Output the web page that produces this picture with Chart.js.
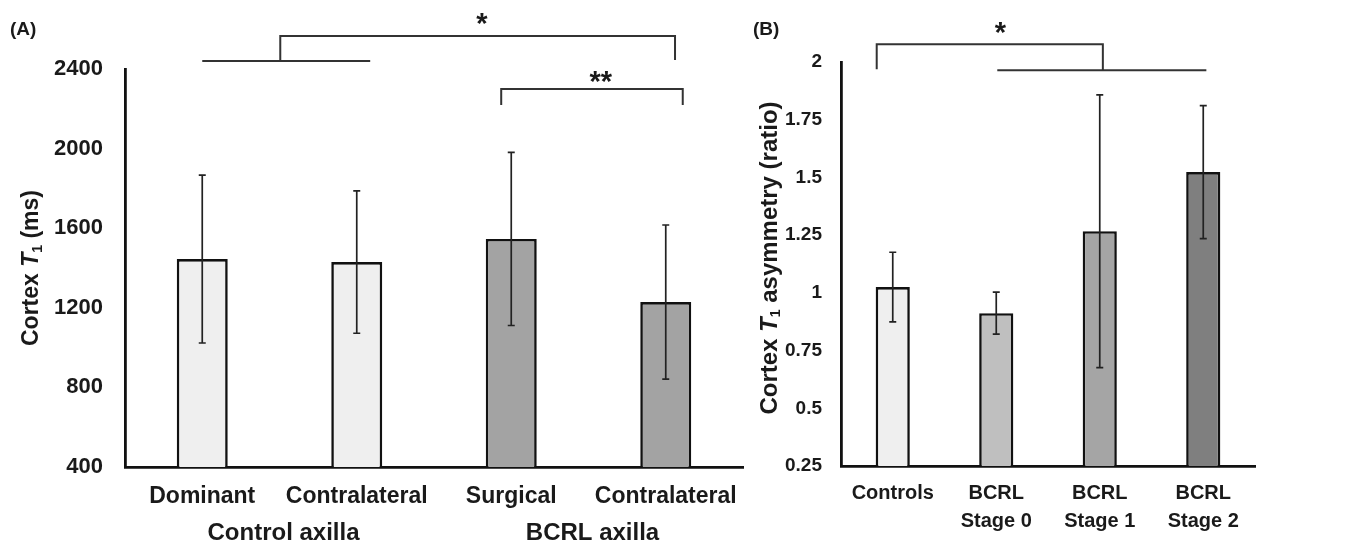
<!DOCTYPE html>
<html><head><meta charset="utf-8">
<script src="https://cdn.jsdelivr.net/npm/chart.js@4.4.1/dist/chart.umd.min.js"></script>
<style>
html,body{margin:0;padding:0;background:#fff;}
#wrap{position:relative;width:1345px;height:544px;overflow:hidden;background:#fff;}
#cA{position:absolute;left:0;top:0;}
#cB{position:absolute;left:750px;top:0;}
</style></head><body>
<div id="wrap">
<canvas id="cA" width="765" height="544"></canvas>
<canvas id="cB" width="595" height="544"></canvas>
</div>
<script>
// ---------- data ----------
const categoriesA = ['Dominant', 'Contralateral', 'Surgical', 'Contralateral'];
const groupsA = ['Control axilla', 'BCRL axilla'];
const meansA = [1445, 1430, 1546, 1229];
const sdA = [422, 358, 435, 387];
const yTicksA = [400, 800, 1200, 1600, 2000, 2400];

const categoriesB = [['Controls'], ['BCRL', 'Stage 0'], ['BCRL', 'Stage 1'], ['BCRL', 'Stage 2']];
const meansB = [1.025, 0.912, 1.267, 1.523];
const sdB = [0.151, 0.091, 0.591, 0.288];
const yTicksB = [0.25, 0.5, 0.75, 1, 1.25, 1.5, 1.75, 2];

// significance brackets (x = category index, y = axis value)
const bracketsA = [
  [[0, 2440], [1.087, 2440]],
  [[0.505, 2440], [0.505, 2566], [3.06, 2566], [3.06, 2445]],
  [[1.935, 2219], [1.935, 2300], [3.11, 2300], [3.11, 2219]]
];
const starsA = [{x: 1.81, y: 2651, t: '*'}, {x: 2.58, y: 2360, t: '**'}];
const bracketsB = [
  [[-0.155, 1.969], [-0.155, 2.077], [2.03, 2.077], [2.03, 1.964]],
  [[1.01, 1.964], [3.03, 1.964]]
];
const starsB = [{x: 1.04, y: 2.146, t: '*'}];

// ---------- styles ----------
const FONT = "'Liberation Sans', Arial, Helvetica, sans-serif";
const fillA = ['#efefef', '#efefef', '#a3a3a3', '#a3a3a3'];
const fillB = ['#efefef', '#bfbfbf', '#a5a5a5', '#7f7f7f'];
Chart.defaults.font.family = FONT;
Chart.defaults.color = '#1a1a1a';

function drawYTitle(ctx, cx, cy, parts) {
  ctx.save();
  ctx.translate(cx, cy);
  ctx.rotate(-Math.PI / 2);
  ctx.fillStyle = '#1a1a1a';
  ctx.textBaseline = 'middle';
  ctx.textAlign = 'left';
  let total = 0;
  parts.forEach(p => { ctx.font = p.f; p.w = ctx.measureText(p.t).width; total += p.w; });
  let x = -total / 2;
  parts.forEach(p => { ctx.font = p.f; ctx.fillText(p.t, x, p.dy || 0); x += p.w; });
  ctx.restore();
}

function drawStar(ctx, x, y, t) {
  ctx.save();
  ctx.font = 'bold 29px ' + FONT;
  ctx.fillStyle = '#1a1a1a';
  ctx.textAlign = 'center';
  ctx.textBaseline = 'alphabetic';
  const m = ctx.measureText(t);
  const asc = m.actualBoundingBoxAscent, desc = m.actualBoundingBoxDescent;
  ctx.fillText(t, x, y + (asc - desc) / 2);
  ctx.restore();
}

function makeOverlay(cfg) {
  return {
    id: 'overlay',
    afterDatasetsDraw(chart) {
      const ctx = chart.ctx, xs = chart.scales.x, ys = chart.scales.y;
      ctx.save();
      ctx.strokeStyle = '#222';
      ctx.lineWidth = 1.7;
      cfg.means.forEach((m, i) => {
        const px = xs.getPixelForValue(i);
        const top = ys.getPixelForValue(m + cfg.sd[i]);
        const bot = ys.getPixelForValue(m - cfg.sd[i]);
        ctx.beginPath();
        ctx.moveTo(px, top); ctx.lineTo(px, bot);
        ctx.moveTo(px - 3.5, top); ctx.lineTo(px + 3.5, top);
        ctx.moveTo(px - 3.5, bot); ctx.lineTo(px + 3.5, bot);
        ctx.stroke();
      });
      ctx.restore();
    },
    afterDraw(chart) {
      const ctx = chart.ctx, xs = chart.scales.x, ys = chart.scales.y;
      ctx.save();
      ctx.strokeStyle = '#333';
      ctx.lineWidth = 2;
      cfg.brackets.forEach(poly => {
        ctx.beginPath();
        poly.forEach((p, k) => {
          const px = xs.getPixelForValue(p[0]), py = ys.getPixelForValue(p[1]);
          if (k === 0) ctx.moveTo(px, py); else ctx.lineTo(px, py);
        });
        ctx.stroke();
      });
      ctx.restore();
      cfg.stars.forEach(s => drawStar(ctx, xs.getPixelForValue(s.x), ys.getPixelForValue(s.y), s.t));
      ctx.save();
      ctx.font = 'bold 19px ' + FONT;
      ctx.fillStyle = '#1a1a1a';
      ctx.textBaseline = 'middle';
      ctx.textAlign = 'left';
      ctx.fillText(cfg.panel, cfg.panelX, 30);
      ctx.restore();
      drawYTitle(ctx, cfg.titleX, (chart.chartArea.top + chart.chartArea.bottom) / 2 + cfg.titleDy, cfg.title);
      if (cfg.groups) {
        ctx.save();
        ctx.font = 'bold 24px ' + FONT;
        ctx.fillStyle = '#1a1a1a';
        ctx.textAlign = 'center';
        ctx.textBaseline = 'middle';
        cfg.groups.forEach((g, gi) => {
          const x = (xs.getPixelForValue(gi * 2) + xs.getPixelForValue(gi * 2 + 1)) / 2;
          ctx.fillText(g, x + 4, 533);
        });
        ctx.restore();
      }
    }
  };
}

function titleParts(rest, size) {
  return [
    {t: 'Cortex ', f: 'bold ' + size + 'px ' + FONT},
    {t: 'T', f: 'italic bold ' + size + 'px ' + FONT},
    {t: '1', f: 'bold 14px ' + FONT, dy: 6},
    {t: rest, f: 'bold ' + size + 'px ' + FONT}
  ];
}

function makeChart(id, o) {
  return new Chart(document.getElementById(id), {
    type: 'bar',
    data: {
      labels: o.labels,
      datasets: [{
        data: o.means,
        backgroundColor: o.fill,
        borderColor: '#111',
        borderWidth: 2.6,
        barPercentage: 0.33,
        categoryPercentage: 1
      }]
    },
    options: {
      responsive: false,
      animation: false,
      events: [],
      layout: {padding: {left: 0, top: o.top, right: o.right, bottom: 0}},
      plugins: {legend: {display: false}, tooltip: {enabled: false}},
      scales: {
        x: {
          grid: {display: false, drawTicks: false},
          border: {display: true, color: '#111', width: 2.8},
          ticks: {font: {size: o.xFont, weight: 'bold', lineHeight: o.xLH}, padding: o.xPad, color: '#1a1a1a', maxRotation: 0, autoSkip: false},
          afterFit(s) { s.height = o.xH; }
        },
        y: {
          min: o.yTicks[0], max: o.yTicks[o.yTicks.length - 1],
          grid: {display: false, drawTicks: false},
          border: {display: true, color: '#111', width: 2.8},
          ticks: {font: {size: o.yFont, weight: 'bold'}, padding: o.yPad, color: '#1a1a1a', callback: v => String(v)},
          afterBuildTicks(s) { s.ticks = o.yTicks.map(v => ({value: v})); },
          afterFit(s) { s.width = o.yW; }
        }
      }
    },
    plugins: [makeOverlay(o.overlay)]
  });
}

makeChart('cA', {
  labels: categoriesA, means: meansA, fill: fillA, yTicks: yTicksA,
  top: 69, right: 22, xH: 77, yW: 125, xFont: 23, xLH: 1.2, xPad: 16, yFont: 22, yPad: 22,
  overlay: {means: meansA, sd: sdA, brackets: bracketsA, stars: starsA, panel: '(A)', panelX: 10,
            title: titleParts(' (ms)', 23), titleX: 32, titleDy: 0, groups: groupsA}
});

makeChart('cB', {
  labels: categoriesB, means: meansB, fill: fillB, yTicks: yTicksB,
  top: 62, right: 90, xH: 78, yW: 91, xFont: 20, xLH: 1.4, xPad: 13, yFont: 19, yPad: 19,
  overlay: {means: meansB, sd: sdB, brackets: bracketsB, stars: starsB, panel: '(B)', panelX: 3,
            title: titleParts(' asymmetry (ratio)', 24), titleX: 20, titleDy: -6, groups: null}
});
</script>
</body></html>
